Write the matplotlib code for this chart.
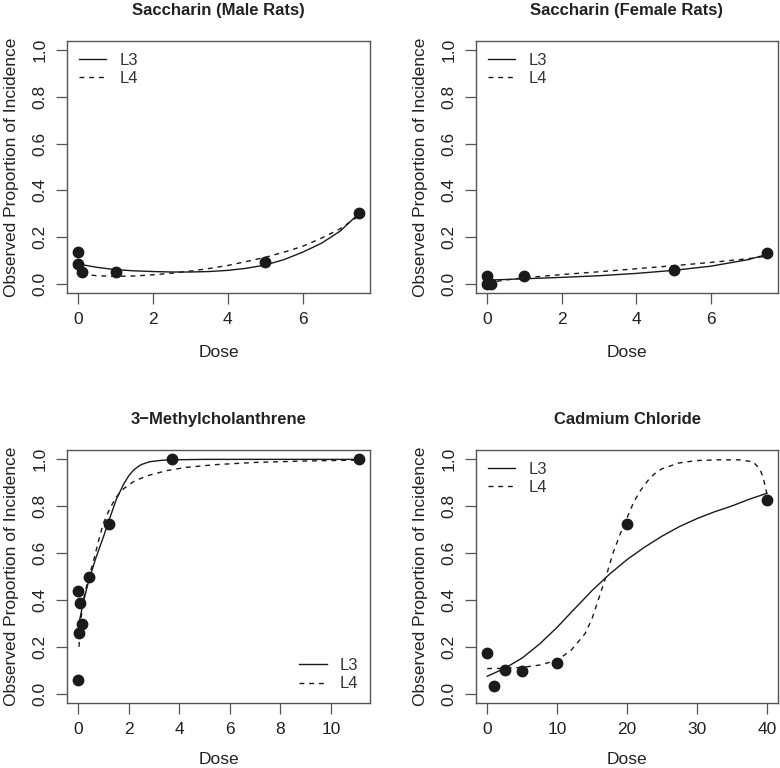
import matplotlib
matplotlib.use("Agg")
import matplotlib.pyplot as plt

plt.rcParams['font.family'] = ['Liberation Sans', 'DejaVu Sans']

# ---------------- data ----------------
titles = ["Saccharin (Male Rats)", "Saccharin (Female Rats)",
          "3\u2212Methylcholanthrene", "Cadmium Chloride"]

# observed points
male_dose = [0, 0, 0.1, 1, 5, 7.5]
male_prop = [0.135, 0.084, 0.048, 0.05, 0.093, 0.305]
female_dose = [0, 0, 0.1, 1, 5, 7.5]
female_prop = [0.035, 0.0, 0.0, 0.032, 0.057, 0.132]
mc_dose = [0, 0, 0.065, 0.03, 0.13, 0.41, 1.2, 3.7, 11.1]
mc_prop = [0.057, 0.438, 0.387, 0.26, 0.299, 0.498, 0.726, 1.0, 1.0]
cd_dose = [0, 1, 2.5, 5, 10, 20, 40]
cd_prop = [0.175, 0.031, 0.101, 0.098, 0.132, 0.722, 0.826]

# fitted curves
male_l3_x = [0, 0.5, 1, 1.5, 2, 2.5, 3, 3.5, 4, 4.5, 5, 5.5, 6, 6.5, 7, 7.5]
male_l3_y = [0.084, 0.07, 0.06, 0.055, 0.052, 0.05, 0.05, 0.052, 0.057, 0.066, 0.08, 0.103, 0.135, 0.173, 0.225, 0.30]
male_l4_x = [0.1, 0.5, 1, 1.5, 2, 2.5, 3, 3.5, 4, 4.5, 5, 5.5, 6, 6.5, 7, 7.5]
male_l4_y = [0.041, 0.034, 0.031, 0.033, 0.038, 0.045, 0.054, 0.065, 0.078, 0.095, 0.113, 0.135, 0.16, 0.195, 0.235, 0.29]

female_l3_x = [0, 1, 2, 3, 4, 5, 6, 7, 7.5]
female_l3_y = [0.015, 0.021, 0.027, 0.034, 0.044, 0.057, 0.075, 0.103, 0.125]
female_l4_x = [0, 0.5, 1, 2, 3, 4, 5, 6, 7, 7.5]
female_l4_y = [0.003, 0.016, 0.025, 0.039, 0.051, 0.064, 0.077, 0.091, 0.107, 0.118]

mc_l3_x = [0.03, 0.2, 0.41, 0.7, 1.0, 1.25, 1.51, 1.8, 2.0, 2.17, 2.35, 2.5, 2.83, 3.3, 3.7, 5, 7, 9, 11.1]
mc_l3_y = [0.30, 0.39, 0.48, 0.58, 0.67, 0.75, 0.83, 0.895, 0.93, 0.952, 0.968, 0.978, 0.99, 0.996, 0.998, 1.0, 1.0, 1.0, 1.0]
mc_l4_x = [0.03, 0.1, 0.2, 0.4, 0.59, 0.8, 0.99, 1.25, 1.51, 1.8, 2.17, 2.5, 2.83, 3.5, 4.27, 5.5, 7, 9, 11.1]
mc_l4_y = [0.2, 0.31, 0.4, 0.49, 0.56, 0.65, 0.726, 0.79, 0.84, 0.875, 0.904, 0.92, 0.933, 0.952, 0.966, 0.978, 0.987, 0.993, 0.997]

cd_l3_x = [0, 2.5, 5, 7.5, 10, 12.5, 15, 17.5, 20, 22.5, 25, 27.5, 30, 32.5, 35, 37.5, 40]
cd_l3_y = [0.074, 0.108, 0.152, 0.212, 0.283, 0.362, 0.44, 0.51, 0.572, 0.625, 0.672, 0.713, 0.747, 0.776, 0.801, 0.83, 0.855]
cd_l4_x = [0, 2.5, 5, 7.5, 10, 12, 14, 15, 16, 17, 18, 19, 20, 21, 22, 23, 24, 25, 27.5, 30, 33, 36, 38, 39, 39.5, 40]
cd_l4_y = [0.107, 0.108, 0.112, 0.122, 0.142, 0.185, 0.256, 0.32, 0.41, 0.5, 0.6, 0.68, 0.75, 0.82, 0.87, 0.91, 0.94, 0.96, 0.985, 0.995, 0.998, 0.998, 0.99, 0.96, 0.92, 0.855]

legend_loc = ["upper left", "upper left", "lower right", "upper left"]

panels = [
    (male_dose, male_prop, male_l3_x, male_l3_y, male_l4_x, male_l4_y, [0, 2, 4, 6]),
    (female_dose, female_prop, female_l3_x, female_l3_y, female_l4_x, female_l4_y, [0, 2, 4, 6]),
    (mc_dose, mc_prop, mc_l3_x, mc_l3_y, mc_l4_x, mc_l4_y, [0, 2, 4, 6, 8, 10]),
    (cd_dose, cd_prop, cd_l3_x, cd_l3_y, cd_l4_x, cd_l4_y, [0, 10, 20, 30, 40]),
]

# ---------------- figure ----------------
fig = plt.figure(figsize=(7.8, 7.68), dpi=100)
W, H = 780, 768
boxes = [(67, 41, 370, 293), (476, 41, 778, 293), (67, 450, 370, 703), (476, 450, 778, 703)]
ink = "#1a1a1a"
boxc = "#555555"

for i, (box, p) in enumerate(zip(boxes, panels)):
    x0, y0, x1, y1 = box
    ax = fig.add_axes([x0 / W, 1 - y1 / H, (x1 - x0) / W, (y1 - y0) / H])
    dx, dy, l3x, l3y, l4x, l4y, xt = p
    xmax = max(dx)
    ax.set_xlim(-0.04 * xmax, 1.04 * xmax)
    ax.set_ylim(-0.04, 1.04)
    ax.plot(l3x, l3y, color=ink, lw=1.0, ls='-', label="L3")
    ax.plot(l4x, l4y, color=ink, lw=1.0, ls=(0, (3.5, 3.5)), label="L4")
    ax.plot(dx, dy, 'o', color=ink, ms=7.5, mec=ink, zorder=5)
    ax.set_xticks(xt)
    ax.set_yticks([0, 0.2, 0.4, 0.6, 0.8, 1.0])
    ax.set_yticklabels(["0.0", "0.2", "0.4", "0.6", "0.8", "1.0"], rotation=90, va='center')
    ax.tick_params(axis='both', direction='out', length=8, width=0.9, color=boxc,
                   labelsize=12.5, labelcolor="#222222", pad=6)
    for s in ax.spines.values():
        s.set_color(boxc)
        s.set_linewidth(1.0)
    ax.set_xlabel("Dose", fontsize=12.5, color="#222222", labelpad=12.5 if i < 2 else 10.5)
    ax.set_ylabel("Observed Proportion of Incidence", fontsize=12.5, color="#222222", labelpad=10)
    ax.set_title(titles[i], fontsize=12, fontweight='bold', color="#222222", pad=19)
    leg = ax.legend(loc=legend_loc[i], frameon=False, fontsize=12, handlelength=1.65,
                    handletextpad=0.8, labelspacing=0.2, borderaxespad=0.3, borderpad=0.4)
    for t in leg.get_texts():
        t.set_color("#333333")

fig.savefig("out.png", dpi=100)
